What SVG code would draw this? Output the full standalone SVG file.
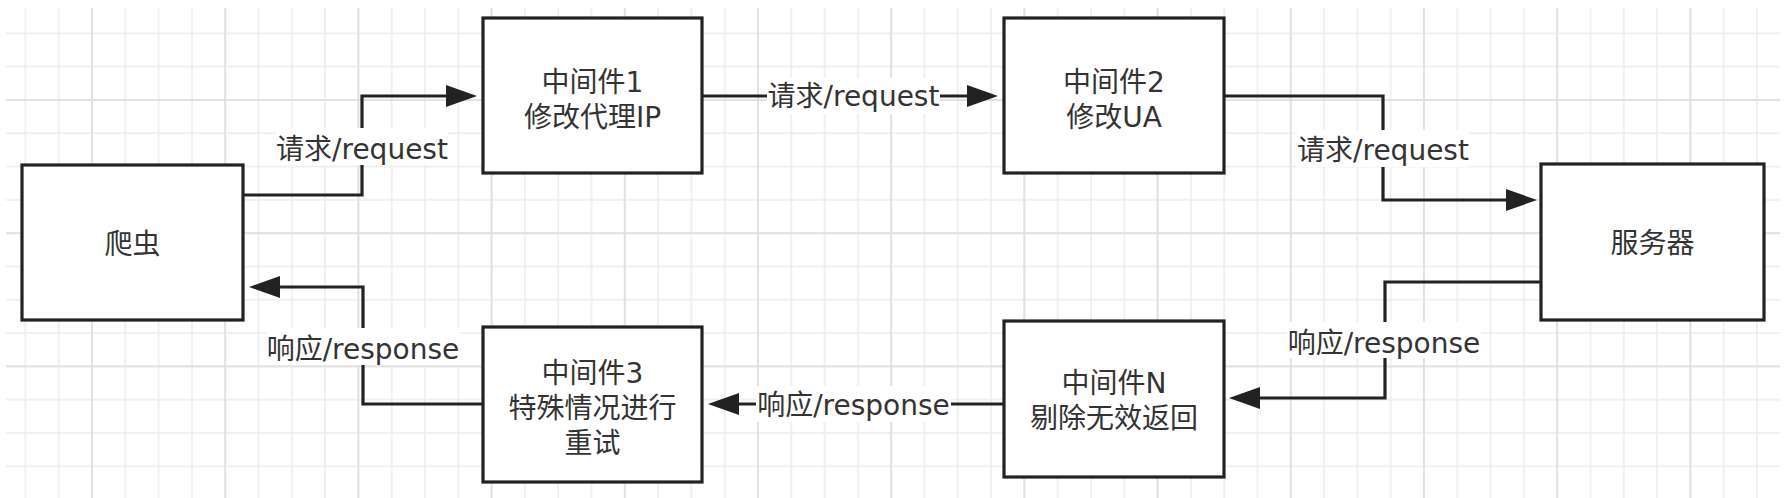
<svg xmlns="http://www.w3.org/2000/svg" width="1789" height="498" viewBox="0 0 1789 498">
<style>
.node rect { fill: #ffffff; stroke: #222222; stroke-width: 3.2; }
.txt { font-family: "DejaVu Sans", "Noto Sans CJK SC", sans-serif; font-size: 28px; fill: #333333; text-anchor: middle; }
.edge { fill: none; stroke: #222222; stroke-width: 3.2; }
.lblbg { fill: #ffffff; }
</style>
<defs>
<pattern id="gridMinor" patternUnits="userSpaceOnUse" x="90" y="98" width="33.3" height="33.3">
<path d="M0,2 H33.3 M2,0 V33.3" stroke="#ececec" stroke-width="1.5" fill="none"/>
</pattern>
<pattern id="gridMajor" patternUnits="userSpaceOnUse" x="90" y="98" width="133.2" height="133.2">
<path d="M0,2 H133.2 M2,0 V133.2" stroke="#dddddd" stroke-width="1.5" fill="none"/>
</pattern>
<marker id="arrow" markerUnits="userSpaceOnUse" markerWidth="32" markerHeight="24" refX="0" refY="11" orient="auto">
<path d="M0,0 L31,11 L0,22 Z" fill="#222222"/>
</marker>
</defs>
<rect x="0" y="0" width="1789" height="498" fill="#ffffff"/>
<g id="grid">
<rect x="6" y="8" width="1774" height="490" fill="url(#gridMinor)"/>
<rect x="6" y="8" width="1774" height="490" fill="url(#gridMajor)"/>
</g>
<g id="connectors">
<path class="edge" d="M243,195 H362 V96 H446" marker-end="url(#arrow)"/>
<path class="edge" d="M702,96 H967" marker-end="url(#arrow)"/>
<path class="edge" d="M1224,96 H1383 V200 H1506" marker-end="url(#arrow)"/>
<path class="edge" d="M1541,282 H1385 V398 H1260" marker-end="url(#arrow)"/>
<path class="edge" d="M1004,404 H739" marker-end="url(#arrow)"/>
<path class="edge" d="M483,404 H363 V287 H280" marker-end="url(#arrow)"/>
<rect class="lblbg" x="276" y="128" width="172" height="37"/>
<text class="txt" x="362" y="159">请求/request</text>
<rect class="lblbg" x="767" y="78" width="173" height="36"/>
<text class="txt" x="853.5" y="106">请求/request</text>
<rect class="lblbg" x="1297" y="130" width="172" height="37"/>
<text class="txt" x="1383" y="160">请求/request</text>
<rect class="lblbg" x="1287" y="322" width="194" height="36"/>
<text class="txt" x="1384" y="353">响应/response</text>
<rect class="lblbg" x="756" y="386" width="195" height="36"/>
<text class="txt" x="853.5" y="414.5">响应/response</text>
<rect class="lblbg" x="266" y="328" width="194" height="37"/>
<text class="txt" x="363" y="359">响应/response</text>
</g>
<g id="node-crawler" class="node">
<rect x="22" y="165" width="221" height="155"/>
<text class="txt" x="132.5" y="254">爬虫</text>
</g>
<g id="node-mw1" class="node">
<rect x="483" y="18" width="219" height="155"/>
<text class="txt" x="592.5" y="92">中间件1</text>
<text class="txt" x="592.5" y="127">修改代理IP</text>
</g>
<g id="node-mw2" class="node">
<rect x="1004" y="18" width="220" height="155"/>
<text class="txt" x="1114" y="92">中间件2</text>
<text class="txt" x="1114" y="127">修改UA</text>
</g>
<g id="node-server" class="node">
<rect x="1541" y="164" width="223" height="156"/>
<text class="txt" x="1652.5" y="253">服务器</text>
</g>
<g id="node-mwN" class="node">
<rect x="1004" y="321" width="220" height="156"/>
<text class="txt" x="1114" y="393">中间件N</text>
<text class="txt" x="1114" y="428">剔除无效返回</text>
</g>
<g id="node-mw3" class="node">
<rect x="483" y="327" width="219" height="155"/>
<text class="txt" x="592.5" y="383">中间件3</text>
<text class="txt" x="592.5" y="418">特殊情况进行</text>
<text class="txt" x="592.5" y="453">重试</text>
</g>
</svg>
